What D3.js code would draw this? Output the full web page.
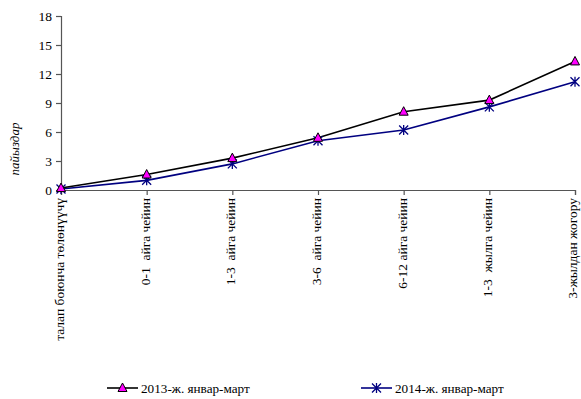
<!DOCTYPE html>
<html>
<head>
<meta charset="utf-8">
<script src="https://cdn.jsdelivr.net/npm/d3@7"></script>
<style>
  html, body { margin: 0; padding: 0; background: #fff; }
  svg { display: block; font-family: "Liberation Serif", "Times New Roman", serif; }
</style>
</head>
<body>
<svg id="chart" width="581" height="399"></svg>
<script>
// Overdue loans by maturity band, percent
const categories = [
  "талап боюнча төлөнүүчү",
  "0-1  айга чейин",
  "1-3  айга чейин",
  "3-6  айга чейин",
  "6-12 айга чейин",
  "1-3  жылга чейин",
  "3-жылдан жогору"
];
const values2013 = [0.2, 1.6, 3.3, 5.4, 8.1, 9.3, 13.3];
const values2014 = [0.1, 1.0, 2.7, 5.1, 6.2, 8.6, 11.2];
const yTicks = [0, 3, 6, 9, 12, 15, 18];
const seriesNames = ["2013-ж. январ-март", "2014-ж. январ-март"];

const svg = d3.select("#chart");
const margin = { left: 61, right: 6, top: 16, bottom: 209 };
const W = 581, H = 399;
const FONT = "Liberation Serif, Times New Roman, serif";

const x = d3.scalePoint().domain(categories).range([margin.left, W - margin.right]);
const y = d3.scaleLinear().domain([0, 18]).range([H - margin.bottom, margin.top]);

// Axes
const yAxis = svg.append("g")
  .attr("transform", `translate(${margin.left},0)`)
  .call(d3.axisLeft(y).tickValues(yTicks).tickSize(5).tickPadding(4));
const xAxis = svg.append("g")
  .attr("transform", `translate(0,${y(0)})`)
  .call(d3.axisBottom(x).tickSize(5).tickFormat(""));

[yAxis, xAxis].forEach(g => {
  g.attr("font-family", FONT);
  g.select(".domain").attr("stroke", "#555").attr("stroke-width", 1.2);
  g.selectAll(".tick line").attr("stroke", "#555").attr("stroke-width", 1.2);
});
yAxis.selectAll(".tick text")
  .attr("font-size", 13.5).attr("fill", "#000");

// Rotated category labels
svg.append("g").selectAll("text")
  .data(categories)
  .join("text")
  .attr("transform", d => `translate(${Math.min(x(d) + 3, W - 4)},${y(0) + 8}) rotate(-90)`)
  .attr("text-anchor", "end")
  .attr("font-size", 13.5)
  .attr("fill", "#000")
  .attr("xml:space", "preserve")
  .style("white-space", "pre")
  .text(d => d);

// Y axis title
svg.append("text")
  .attr("transform", `translate(19,${(y(0) + y(18)) / 2 + 46}) rotate(-90)`)
  .attr("text-anchor", "middle")
  .attr("font-size", 13)
  .attr("font-style", "italic")
  .text("пайыздар");

const line = d3.line().x((d, i) => x(categories[i])).y(d => y(d));

// Series 2014 (navy, asterisk markers)
svg.append("path").datum(values2014)
  .attr("d", line).attr("fill", "none")
  .attr("stroke", "#000080").attr("stroke-width", 1.6);

// Series 2013 (black, magenta triangles)
svg.append("path").datum(values2013)
  .attr("d", line).attr("fill", "none")
  .attr("stroke", "#000").attr("stroke-width", 1.6);

function triangle(g, cx, cy) {
  g.append("path")
    .attr("d", `M${cx},${cy - 5} L${cx + 4.5},${cy + 3.5} L${cx - 4.5},${cy + 3.5} Z`)
    .attr("fill", "#ff00ff").attr("stroke", "#000").attr("stroke-width", 1);
}
function asterisk(g, cx, cy) {
  const r = 4.5;
  g.append("path")
    .attr("d", `M${cx - r},${cy - r} L${cx + r},${cy + r} M${cx - r},${cy + r} L${cx + r},${cy - r} M${cx},${cy - r - 0.5} L${cx},${cy + r + 0.5}`)
    .attr("stroke", "#000080").attr("stroke-width", 1.3).attr("fill", "none");
}

const m2014 = svg.append("g");
values2014.forEach((v, i) => asterisk(m2014, x(categories[i]), y(v)));
const m2013 = svg.append("g");
values2013.forEach((v, i) => triangle(m2013, x(categories[i]), y(v)));

// Legend
const legend = svg.append("g");
const legendItems = [
  { name: seriesNames[0], x0: 107, color: "#000", marker: triangle },
  { name: seriesNames[1], x0: 361, color: "#000080", marker: asterisk }
];
const ly = 388;
legendItems.forEach(it => {
  legend.append("line")
    .attr("x1", it.x0).attr("x2", it.x0 + 31)
    .attr("y1", ly).attr("y2", ly)
    .attr("stroke", it.color).attr("stroke-width", 1.6);
  it.marker(legend, it.x0 + 15.5, ly);
  legend.append("text")
    .attr("x", it.x0 + 34).attr("y", ly + 4.5)
    .attr("font-size", 13.2).attr("fill", "#000")
    .text(it.name);
});
</script>
</body>
</html>
